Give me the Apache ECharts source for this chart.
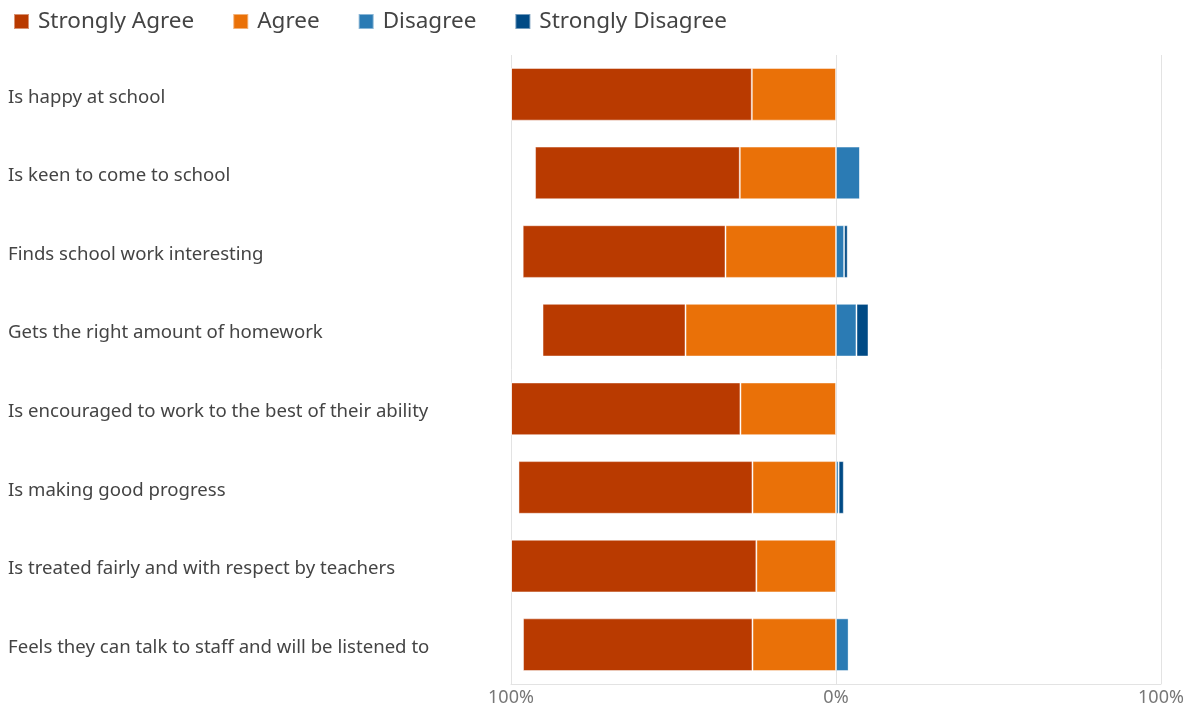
<!DOCTYPE html>
<html>
<head>
<meta charset="utf-8">
<script src="https://cdn.jsdelivr.net/npm/echarts@6/dist/echarts.min.js"></script>
<style>html,body{margin:0;padding:0;background:#fff}#c{width:1189px;height:711px}</style>
</head>
<body>
<div id="c"></div>
<script>
const categories = [
  "Is happy at school",
  "Is keen to come to school",
  "Finds school work interesting",
  "Gets the right amount of homework",
  "Is encouraged to work to the best of their ability",
  "Is making good progress",
  "Is treated fairly and with respect by teachers",
  "Feels they can talk to staff and will be listened to"
];
const stronglyAgree    = [74.1, 63.0, 62.4, 44.0, 70.6, 72.0, 75.5, 70.6];
const agree            = [25.9, 29.6, 34.0, 46.3, 29.4, 25.7, 24.5, 25.7];
const disagree         = [0,    7.4,  2.5,  6.3,  0,    0.8,  0,    3.9];
const stronglyDisagree = [0,    0,    1.1,  3.7,  0,    1.6,  0,    0];
const xTicks = [-100, 0, 100];

const colors = {sa:'#B93A00', a:'#EA7108', d:'#2B7BB4', sd:'#004A85'};
const border = {borderColor:'rgba(255,255,255,0.45)', borderWidth:1};
const font = 'Noto Sans';

const chart = echarts.init(document.getElementById('c'));
chart.setOption({
  animation:false,
  textStyle:{fontFamily:font},
  legend:{
    left:8, top:5, itemWidth:15, itemHeight:15, itemGap:38,
    icon:'rect',
    textStyle:{fontSize:22.5, color:'#444', fontFamily:font, padding:[0,0,0,4]},
    data:['Strongly Agree','Agree','Disagree','Strongly Disagree']
  },
  grid:{left:511, right:28, top:55, bottom:27, containLabel:false},
  xAxis:{
    type:'value', min:xTicks[0], max:xTicks[2], interval:100,
    axisLine:{show:true, onZero:false, lineStyle:{color:'#e3e3e3'}}, axisTick:{show:false},
    splitLine:{show:true, lineStyle:{color:'#e3e3e3', width:1}},
    axisLabel:{fontSize:18, color:'#777', margin:5, formatter:v=>Math.abs(v)+'%'}
  },
  yAxis:{
    type:'category', data:categories, inverse:true,
    axisLine:{show:false}, axisTick:{show:false},
    axisLabel:{
      align:'left', margin:503,
      formatter:v=>'{a|' + v + '}',
      rich:{a:{fontSize:18.6, color:'#444', fontFamily:font, padding:[6,0,0,0]}}
    }
  },
  series:[
    {name:'Agree', type:'bar', stack:'s', barCategoryGap:'33%', itemStyle:Object.assign({color:colors.a},border), data:agree.map(v=>-v)},
    {name:'Strongly Agree', type:'bar', stack:'s', itemStyle:Object.assign({color:colors.sa},border), data:stronglyAgree.map(v=>-v)},
    {name:'Disagree', type:'bar', stack:'s', itemStyle:Object.assign({color:colors.d},border), data:disagree},
    {name:'Strongly Disagree', type:'bar', stack:'s', itemStyle:Object.assign({color:colors.sd},border), data:stronglyDisagree}
  ]
});
</script>
</body>
</html>
